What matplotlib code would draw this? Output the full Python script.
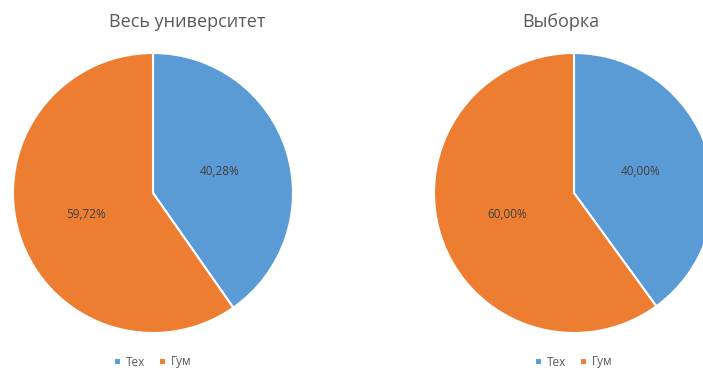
import matplotlib.pyplot as plt

categories = ["Тех", "Гум"]
univ_values = [40.28, 59.72]
sample_values = [40.00, 60.00]
titles = ["Весь университет", "Выборка"]

colors = ["#5B9BD5", "#ED7D31"]

plt.rcParams['font.family'] = ['Open Sans', 'DejaVu Sans']

fig = plt.figure(figsize=(7.03, 3.72), dpi=100)
ax = fig.add_axes([0, 0, 1, 1])
ax.set_xlim(0, 703)
ax.set_ylim(372, 0)
ax.set_aspect('equal')
ax.axis('off')


def pct(p):
    return f"{p:.2f}%".replace('.', ',')


legends = []
for values, title, cx in [(univ_values, titles[0], 153), (sample_values, titles[1], 574)]:
    # y axis is inverted, so start at -90 and go counterclockwise in data space
    wedges, texts, autotexts = ax.pie(
        values, colors=colors, center=(cx, 193), radius=140,
        startangle=-90, counterclock=True, autopct=pct, pctdistance=0.5,
        wedgeprops=dict(edgecolor='white', linewidth=1.5),
        textprops=dict(color='#404040', fontsize=8.5))
    ax.text(cx + (34 if cx < 300 else -13), 22, title, ha='center', va='center',
            fontsize=13, color='#595959')
    leg = ax.legend(wedges, categories, loc='center', ncol=2, frameon=False,
                    bbox_to_anchor=(cx, 362), bbox_transform=ax.transData,
                    fontsize=8.5, handlelength=0.6, handleheight=0.6,
                    handletextpad=0.4, columnspacing=1.2, labelcolor='#595959')
    legends.append(leg)

ax.add_artist(legends[0])
ax.set_xlim(0, 703)
ax.set_ylim(372, 0)

fig.savefig("out.png", dpi=100)
